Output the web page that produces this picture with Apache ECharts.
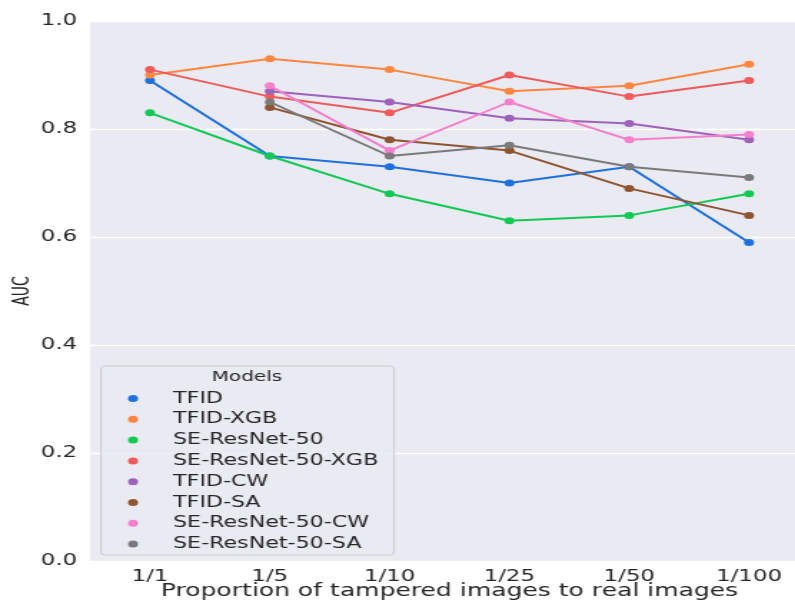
<!DOCTYPE html>
<html>
<head>
<meta charset="utf-8">
<script src="https://cdn.jsdelivr.net/npm/echarts@6/dist/echarts.min.js"></script>
<style>
html, body { margin: 0; padding: 0; background: #ffffff; overflow: hidden; }
/* the reference figure is stretched horizontally; reproduce that stretch */
#chart { width: 556px; height: 601px; transform: scaleX(1.43); transform-origin: 0 0; }
</style>
</head>
<body>
<div id="chart"></div>
<script>
var categories = ['1/1', '1/5', '1/10', '1/25', '1/50', '1/100'];
var yTicks = [0.0, 0.2, 0.4, 0.6, 0.8, 1.0];

var seriesNames = ['TFID', 'TFID-XGB', 'SE-ResNet-50', 'SE-ResNet-50-XGB',
                   'TFID-CW', 'TFID-SA', 'SE-ResNet-50-CW', 'SE-ResNet-50-SA'];

var tfid          = [0.89, 0.75, 0.73, 0.70, 0.73, 0.59];
var tfidXgb       = [0.90, 0.93, 0.91, 0.87, 0.88, 0.92];
var seResNet      = [0.83, 0.75, 0.68, 0.63, 0.64, 0.68];
var seResNetXgb   = [0.91, 0.86, 0.83, 0.90, 0.86, 0.89];
var tfidCw        = [null, 0.87, 0.85, 0.82, 0.81, 0.78];
var tfidSa        = [null, 0.84, 0.78, 0.76, 0.69, 0.64];
var seResNetCw    = [null, 0.88, 0.76, 0.85, 0.78, 0.79];
var seResNetSa    = [null, 0.85, 0.75, 0.77, 0.73, 0.71];

var seriesValues = [tfid, tfidXgb, seResNet, seResNetXgb, tfidCw, tfidSa, seResNetCw, seResNetSa];
var colors = ['#1f72de', '#ff8640', '#12c955', '#ef5b5b', '#9e62b9', '#8f5430', '#f57fcc', '#7a7a7a'];

var chart = echarts.init(document.getElementById('chart'));

var series = seriesNames.map(function (name, i) {
  return {
    name: name,
    type: 'line',
    data: seriesValues[i],
    connectNulls: false,
    symbol: 'circle',
    symbolSize: 7,
    showSymbol: true,
    color: colors[i],
    lineStyle: { width: 2, color: colors[i] },
    itemStyle: { color: colors[i] },
    z: 3
  };
});

var option = {
  animation: false,
  backgroundColor: '#ffffff',
  grid: {
    left: 63, right: -9.7, top: 21, bottom: 40,
    outerBoundsMode: 'none',
    containLabel: false,
    show: true, backgroundColor: '#eaeaf2', borderWidth: 0
  },
  xAxis: {
    type: 'category',
    data: categories,
    boundaryGap: true,
    axisLine: { show: false },
    axisTick: { show: false },
    splitLine: { show: false },
    axisLabel: { interval: 0, margin: 8, fontSize: 16, color: '#262626', fontFamily: 'DejaVu Sans' },
    name: 'Proportion of tampered images to real images',
    nameLocation: 'middle',
    nameGap: 21,
    nameMoveOverlap: false,
    nameTextStyle: { fontSize: 17.5, color: '#262626', fontFamily: 'DejaVu Sans' }
  },
  yAxis: {
    type: 'value',
    min: yTicks[0],
    max: yTicks[yTicks.length - 1],
    interval: 0.2,
    axisLine: { show: false },
    axisTick: { show: false },
    splitLine: { show: true, lineStyle: { color: '#ffffff', width: 1.3 } },
    axisLabel: {
      margin: 9, fontSize: 16, color: '#262626', fontFamily: 'DejaVu Sans',
      formatter: function (v) { return v.toFixed(1); }
    },
    name: 'AUC',
    nameLocation: 'middle',
    nameGap: 39,
    nameRotate: 90,
    nameMoveOverlap: false,
    nameTextStyle: { fontSize: 15.5, color: '#262626', fontFamily: "'DejaVu Sans Condensed', 'Liberation Sans Narrow', 'DejaVu Sans'" }
  },
  legend: {
    show: true,
    orient: 'vertical',
    left: 89.5,
    top: 390.5,
    padding: 0,
    itemGap: 4.8,
    itemWidth: 7,
    itemHeight: 7,
    icon: 'circle',
    data: seriesNames,
    z: 10,
    textStyle: {
      fontSize: 15.5, color: '#262626', fontFamily: 'DejaVu Sans',
      lineHeight: 16, padding: [0, 0, 0, 19.5]
    }
  },
  graphic: [
    {
      type: 'rect',
      z: 5,
      shape: { x: 70.6, y: 366, width: 205, height: 189, r: 3 },
      style: { fill: 'rgba(234,234,242,0.8)', stroke: '#cccccc', lineWidth: 1 }
    },
    {
      type: 'text',
      z: 6,
      x: 172.7,
      y: 377,
      style: {
        text: 'Models', fontSize: 14, fontFamily: 'DejaVu Sans', fill: '#262626',
        align: 'center', verticalAlign: 'middle'
      }
    }
  ],
  series: series
};

chart.setOption(option);
</script>
</body>
</html>
